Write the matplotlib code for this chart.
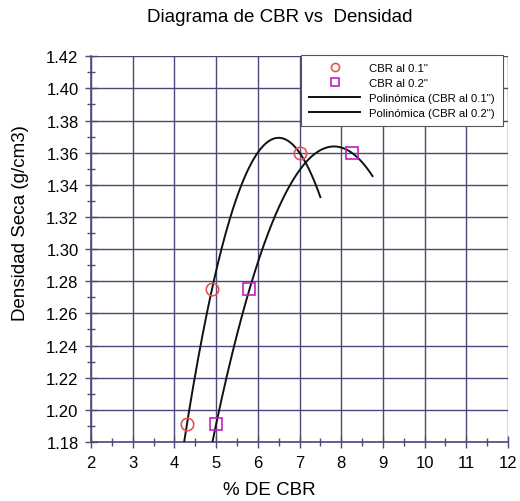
import numpy as np
import matplotlib.pyplot as plt
from matplotlib.ticker import MultipleLocator

plt.rcParams['font.family'] = ['Liberation Sans', 'DejaVu Sans']

# CBR readings and dry density
cbr_01 = [4.3, 4.9, 7.0]
dens_01 = [1.191, 1.275, 1.360]
cbr_02 = [5.0, 5.8, 8.25]
dens_02 = [1.191, 1.275, 1.360]

grid_col = '#4a4a78'

fig = plt.figure(figsize=(5.2, 5.02), dpi=100)
ax = fig.add_axes([0.175, 0.1175, 0.802, 0.7685])

# 2nd order polynomial trendlines, extended 0.5 either side
def trend(x, y):
    coef = np.polyfit(x, y, 2)
    xs = np.linspace(min(x) - 0.5, max(x) + 0.5, 200)
    return xs, np.polyval(coef, xs)

ax.plot(cbr_01, dens_01, 'o', mfc='none', mec='#e05555', ms=9, mew=1.2,
        label='CBR al 0.1"', zorder=4)
ax.plot(cbr_02, dens_02, 's', mfc='none', mec='#c020c0', ms=9, mew=1.2,
        label='CBR al 0.2"', zorder=4)
x1, y1 = trend(cbr_01, dens_01)
x2, y2 = trend(cbr_02, dens_02)
ax.plot(x1, y1, color='#111111', lw=1.4, label='Polinómica (CBR al 0.1")', zorder=3)
ax.plot(x2, y2, color='#111111', lw=1.4, label='Polinómica (CBR al 0.2")', zorder=3)

ax.set_xlim(2, 12)
ax.set_ylim(1.18, 1.42)
ax.xaxis.set_major_locator(MultipleLocator(1))
ax.xaxis.set_minor_locator(MultipleLocator(0.5))
ax.yaxis.set_major_locator(MultipleLocator(0.02))
ax.yaxis.set_minor_locator(MultipleLocator(0.01))
ax.yaxis.set_major_formatter(plt.FormatStrFormatter('%.2f'))

ax.grid(True, which='major', color=grid_col, lw=1.0)
for s in ['top', 'right']:
    ax.spines[s].set_visible(False)
for s in ['left', 'bottom']:
    ax.spines[s].set_color(grid_col)
    ax.spines[s].set_linewidth(1.2)
ax.tick_params(which='both', direction='inout', color=grid_col, labelsize=12)
ax.tick_params(which='major', length=8, width=1.0, pad=5)
ax.tick_params(which='minor', length=6, width=1.0)

fig.text(269 / 520, 1 - 491 / 502, '% DE CBR', ha='center', va='center', fontsize=13.5)
fig.text(21 / 520, 1 - 223 / 502, 'Densidad Seca (g/cm3)', ha='center', va='center',
         rotation=90, fontsize=13.5)
fig.text(280 / 520, 1 - 18 / 502, 'Diagrama de CBR vs  Densidad', ha='center', va='center',
         fontsize=13.5)

leg = ax.legend(loc='upper right', bbox_to_anchor=(0.988, 1.003), borderaxespad=0,
                fontsize=8.2, markerscale=0.65, handlelength=4.5, framealpha=1,
                fancybox=False, edgecolor='#555555', borderpad=0.7, labelspacing=0.45)
leg.get_frame().set_linewidth(0.8)

fig.savefig('out.png', dpi=100)
